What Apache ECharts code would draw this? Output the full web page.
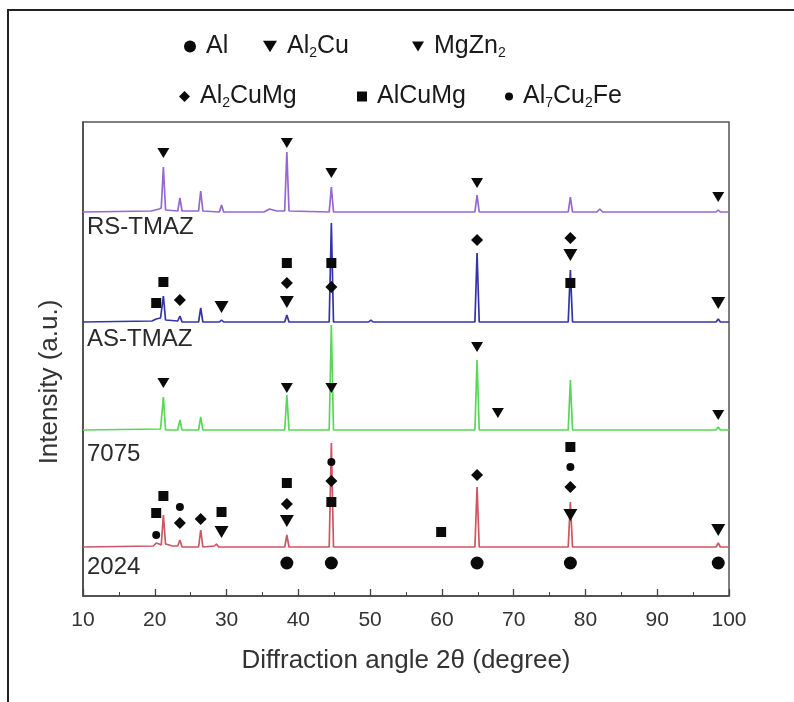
<!DOCTYPE html>
<html>
<head>
<meta charset="utf-8">
<script src="https://cdn.jsdelivr.net/npm/echarts@6/dist/echarts.min.js"></script>
<style>
html,body{margin:0;padding:0;background:#fff;}
#chart{width:794px;height:702px;}
</style>
</head>
<body>
<div id="chart"></div>
<script>
// XRD patterns as [2theta, intensity]; each trace already carries its vertical offset
var rsTmaz = [[10,384],[19.5,385],[20.6,387],[20.9,388],[21.2,429],[21.5,386],[23.2,385],[23.5,398],[23.8,385],
  [26.1,385],[26.4,405],[26.7,385],[29.0,384],[29.3,391],[29.6,384],[35.2,384],[36.0,387],[37.0,385],
  [38.1,385],[38.4,444],[38.7,385],[44.3,384],[44.6,409],[44.9,384],[64.6,384],[64.9,401],[65.2,384],
  [77.6,384],[77.9,399],[78.2,384],[81.6,384],[82.0,387],[82.4,384],[98.2,384],[98.5,386],[98.8,384],[100,384]];
var asTmaz = [[10,274],[19.6,275],[20.2,277],[20.8,278],[21.2,300],[21.5,276],[23.2,275],[23.5,280],[23.8,274],
  [26.1,274],[26.4,288],[26.7,274],[29.0,274],[29.3,276],[29.6,274],[38.1,274],[38.4,281],[38.7,274],
  [44.3,274],[44.6,373],[44.9,274],[49.8,274],[50.1,276],[50.4,274],[64.6,274],[64.9,343],[65.2,274],
  [77.6,274],[77.9,326],[78.2,274],[98.2,274],[98.5,277],[98.8,274],[100,274]];
var al7075 = [[10,166],[20.8,167],[21.2,199],[21.5,166],[23.2,166],[23.5,176],[23.8,166],[26.1,166],[26.4,179],
  [26.7,166],[38.1,166],[38.4,201],[38.7,166],[44.3,166],[44.6,271],[44.9,166],[64.6,166],[64.9,236],
  [65.2,166],[77.6,166],[77.9,216],[78.2,166],[98.2,166],[98.5,169],[98.8,166],[100,166]];
var al2024 = [[10,49],[19.8,50],[20.2,53],[20.6,52],[20.9,51],[21.2,81],[21.5,52],[22.5,50],[23.2,50],[23.5,56],
  [23.8,49],[26.1,49],[26.4,66],[26.7,49],[28.3,50],[28.6,52],[28.9,49],[38.1,49],[38.4,61],[38.7,49],
  [44.3,49],[44.6,153],[44.9,49],[64.6,49],[64.9,109],[65.2,49],[77.6,49],[77.9,94],[78.2,49],
  [98.2,49],[98.5,53],[98.8,49],[100,49]];

// phase markers, [2theta, height on the same scale]
var markAl = [[38.4,33],[44.6,33],[64.9,33],[77.9,33],[98.5,33]];
var markAl2Cu = [[29.3,289],[38.4,294],[77.9,341],[98.5,293],[29.3,64],[38.4,75],[77.9,81],[98.5,66]];
var markMgZn2 = [[21.2,443],[38.4,453],[44.6,423],[64.9,413],[98.5,399],
  [21.2,213],[38.4,208],[44.6,208],[64.9,249],[67.8,183],[98.5,181]];
var markAl2CuMg = [[23.5,296],[38.4,313],[44.6,309],[64.9,356],[77.9,358],
  [23.5,73],[26.4,77],[38.4,92],[44.6,115],[64.9,121],[77.9,109]];
var markAlCuMg = [[20.2,293],[21.2,314],[38.4,333],[44.6,333],[77.9,313],
  [20.2,83],[21.2,100],[29.3,84],[38.4,113],[44.6,94],[59.9,64],[77.9,149]];
var markAl7Cu2Fe = [[20.2,61],[23.5,89],[44.6,134],[77.9,129]];

var traceNames = ['RS-TMAZ', 'AS-TMAZ', '7075', '2024'];
var traceColors = ['#9468d4', '#3434aa', '#5ad65a', '#cf5563'];
var traceLabelY = [228, 340, 455, 568];

var phaseLabels = {
  'Al': '{a|Al}',
  'Al2Cu': '{a|Al}{s|2}{a|Cu}',
  'MgZn2': '{a|MgZn}{s|2}',
  'Al2CuMg': '{a|Al}{s|2}{a|CuMg}',
  'AlCuMg': '{a|AlCuMg}',
  'Al7Cu2Fe': '{a|Al}{s|7}{a|Cu}{s|2}{a|Fe}'
};

var font = 'Liberation Sans, Arial, sans-serif';
var downTri = 'path://M0,0 L12,0 L6,10 Z';
var chart = echarts.init(document.getElementById('chart'));

var legendText = {
  color: '#1a1a1a',
  padding: [0, 0, 0, 5],
  rich: {
    a: {fontSize: 25, fontFamily: font, color: '#1a1a1a'},
    s: {fontSize: 14, fontFamily: font, color: '#1a1a1a', padding: [14, 0, 0, 0]}
  }
};
function oneLegend(name, left, top, size) {
  return {
    data: [name], left: left, top: top, padding: 0,
    itemWidth: size, itemHeight: size,
    selectedMode: false, textStyle: legendText,
    formatter: function (n) { return phaseLabels[n]; }
  };
}

var lines = [rsTmaz, asTmaz, al7075, al2024].map(function (d, i) {
  return {
    name: traceNames[i], type: 'line', data: d, symbol: 'none', z: 2,
    lineStyle: {color: traceColors[i], width: 1.7}, animation: false
  };
});
function marks(name, data, symbol, size) {
  return {
    name: name, type: 'scatter', data: data, symbol: symbol, symbolSize: size, z: 5,
    itemStyle: {color: '#0a0a0a', opacity: 1}, animation: false
  };
}

chart.setOption({
  animation: false,
  grid: {left: 83, right: 65, top: 122, bottom: 106, show: true, borderColor: '#555', borderWidth: 1.5},
  legend: [
    oneLegend('Al', 184, 34, 12),
    oneLegend('Al2Cu', 263, 34, 14),
    oneLegend('MgZn2', 412, 34, 12),
    oneLegend('Al2CuMg', 179, 84, 11),
    oneLegend('AlCuMg', 357, 84, 10),
    oneLegend('Al7Cu2Fe', 505, 84, 8)
  ],
  xAxis: {
    type: 'value', min: 10, max: 100, interval: 10,
    name: 'Diffraction angle 2θ (degree)', nameLocation: 'middle', nameGap: 52,
    nameTextStyle: {fontSize: 26, fontFamily: font, color: '#333'},
    axisLine: {lineStyle: {color: '#444', width: 1.5}},
    axisTick: {inside: true, length: 7, lineStyle: {color: '#444', width: 1.3}},
    minorTick: {show: true, splitNumber: 2, length: 4, lineStyle: {color: '#444'}},
    axisLabel: {fontSize: 21, fontFamily: font, color: '#333', margin: 14},
    splitLine: {show: false}
  },
  yAxis: {
    type: 'value', min: 0, max: 474,
    axisLine: {show: true, lineStyle: {color: '#444', width: 1.5}},
    axisTick: {show: false}, axisLabel: {show: false}, splitLine: {show: false}
  },
  graphic: [
    {type: 'rect', shape: {x: 8, y: 10, width: 820, height: 720}, silent: true,
      style: {fill: 'none', stroke: '#222', lineWidth: 2}},
    {type: 'text', x: 50, y: 382, rotation: Math.PI / 2, silent: true,
      style: {text: 'Intensity (a.u.)', fontSize: 26, fontFamily: font, fill: '#333',
        align: 'center', verticalAlign: 'middle'}}
  ].concat(traceNames.map(function (t, i) {
    return {type: 'text', left: 87, top: traceLabelY[i] - 13, silent: true,
      style: {text: t, fontSize: 24, fontFamily: font, fill: '#2a2a2a'}};
  })),
  series: lines.concat([
    marks('Al', markAl, 'circle', 13),
    marks('Al2Cu', markAl2Cu, downTri, [14, 12]),
    marks('MgZn2', markMgZn2, downTri, [12, 10]),
    marks('Al2CuMg', markAl2CuMg, 'diamond', 12),
    marks('AlCuMg', markAlCuMg, 'rect', 10),
    marks('Al7Cu2Fe', markAl7Cu2Fe, 'circle', 8)
  ])
});
</script>
</body>
</html>
